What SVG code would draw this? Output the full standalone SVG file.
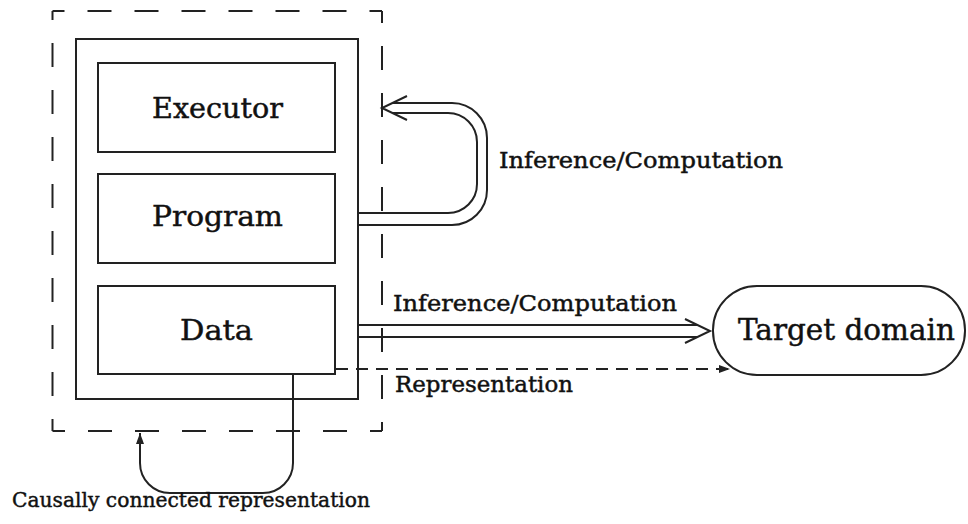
<svg xmlns="http://www.w3.org/2000/svg" width="968" height="524" viewBox="0 0 968 524">
<style>
.box{fill:none;stroke:#222;stroke-width:2}
.ln{fill:none;stroke:#222;stroke-width:2}
.dash{fill:none;stroke:#222;stroke-width:2;stroke-dasharray:24 23;stroke-dashoffset:12}
.t{font-family:"DejaVu Serif","Liberation Serif",serif;fill:#111;stroke:#111;stroke-width:0.45}
</style>
<defs>
<marker id="fa" markerWidth="12" markerHeight="10" refX="11" refY="5" orient="auto" markerUnits="userSpaceOnUse">
<path d="M0,1 L11,5 L0,9 Z" fill="#222"/>
</marker>
</defs>
<rect width="968" height="524" fill="#fff"/>
<g id="system">
<line class="dash" x1="52.5" y1="11" x2="382" y2="11"/>
<line class="dash" x1="382" y1="11" x2="382" y2="431"/>
<line class="dash" x1="382" y1="431" x2="52.5" y2="431"/>
<line class="dash" x1="52.5" y1="431" x2="52.5" y2="11"/>
<rect class="box" x="76" y="39" width="282" height="360"/>
</g>
<g id="executor">
<rect class="box" x="98" y="63" width="237" height="89"/>
<text class="t" x="152" y="118" font-size="27" textLength="131" lengthAdjust="spacingAndGlyphs">Executor</text>
</g>
<g id="program">
<rect class="box" x="98" y="174" width="237" height="89"/>
<text class="t" x="152" y="226" font-size="27" textLength="131" lengthAdjust="spacingAndGlyphs">Program</text>
</g>
<g id="data">
<rect class="box" x="98" y="286" width="237" height="88"/>
<text class="t" x="180" y="340" font-size="27" textLength="73" lengthAdjust="spacingAndGlyphs">Data</text>
</g>
<g id="target">
<rect class="box" x="713" y="286" width="252" height="89" rx="44" ry="44"/>
<text class="t" x="738" y="340" font-size="29" textLength="217" lengthAdjust="spacingAndGlyphs">Target domain</text>
</g>
<g id="connectors">
<path class="ln" d="M358,225 H452 A35,35 0 0 0 487,190 V138 A35,35 0 0 0 452,103 H392"/>
<path class="ln" d="M358,213 H448 A29,29 0 0 0 477,184 V142 A29,29 0 0 0 448,113 H392"/>
<polyline class="ln" points="407,96 382,108 407,120"/>
<path class="ln" d="M358,325 H698 M358,337 H698"/>
<polyline class="ln" points="685,319 710,331 685,343"/>
<path class="ln" d="M336,369 H730" stroke-dasharray="12 8" marker-end="url(#fa)"/>
<path class="ln" d="M293,374 V463 A30,30 0 0 1 263,493 H170 A30,30 0 0 1 140,463 V433" marker-end="url(#fa)"/>
</g>
<g id="labels">
<text class="t" x="499" y="168" font-size="22" textLength="284" lengthAdjust="spacingAndGlyphs">Inference/Computation</text>
<text class="t" x="393" y="311" font-size="22" textLength="284" lengthAdjust="spacingAndGlyphs">Inference/Computation</text>
<text class="t" x="395" y="392" font-size="22" textLength="178" lengthAdjust="spacingAndGlyphs">Representation</text>
<text class="t" x="12" y="507" font-size="21" textLength="358" lengthAdjust="spacingAndGlyphs">Causally connected representation</text>
</g>
</svg>
